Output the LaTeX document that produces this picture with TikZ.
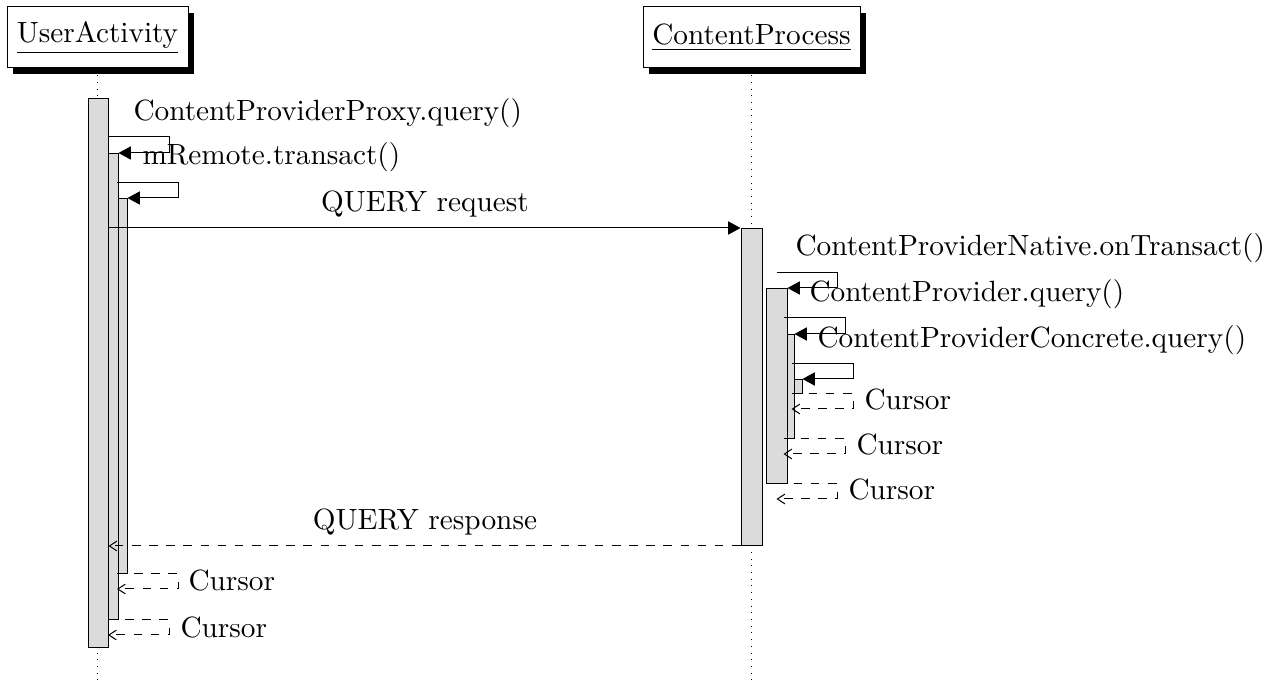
\documentclass[tikz,border=0pt]{standalone}
\usetikzlibrary{arrows.meta,shadows}
\begin{document}
\begin{tikzpicture}[x=0.35pt,y=-0.35pt, line width=0.35pt,
  every node/.style={font=\fontsize{10.25}{12}\selectfont},
  objbox/.style={draw, fill=white, inner sep=0pt, minimum height=21.35pt,
    drop shadow={shadow xshift=2.1pt, shadow yshift=-2.1pt, opacity=1, fill=black}},
  lifeline/.style={dotted},
  actbar/.style={draw, fill=gray!28, inner sep=0pt, anchor=north},
  msg/.style={-{Triangle[length=4.3pt,width=4.6pt]}},
  reply/.style={dashed, -{Straight Barb[length=2.6pt,width=3.4pt]}},
  lbl/.style={inner sep=0pt, anchor=base west},
  mlbl/.style={inner sep=0pt, anchor=base},
]
\useasboundingbox (0,0) rectangle (1284,682);

% objects
\node[objbox, minimum width=63.35pt] (ua) at (97.5,37.5) {\underline{UserActivity}};
\node[objbox, minimum width=75.95pt] (cp) at (751.5,37.5) {\underline{ContentProcess}};

% lifelines
\coordinate (uaend) at (97.5,682);
\coordinate (cpend) at (751.5,682);
\draw[lifeline] (ua.south) -- (uaend);
\draw[lifeline] (cp.south) -- (cpend);

% activation bars, innermost first
\node[actbar, minimum width=7pt, minimum height=131.25pt] (ua3) at (117,198) {};
\node[actbar, minimum width=7pt, minimum height=163.1pt] (ua2) at (108,153) {};
\node[actbar, minimum width=7pt, minimum height=192.15pt] (ua1) at (98,98) {};
\node[actbar, minimum width=7.35pt, minimum height=4.9pt] (cp4) at (791.5,379) {};
\node[actbar, minimum width=7.35pt, minimum height=36.4pt] (cp3) at (783.5,334) {};
\node[actbar, minimum width=7.35pt, minimum height=68.25pt] (cp2) at (776.5,288) {};
\node[actbar, minimum width=7.35pt, minimum height=110.95pt] (cp1) at (751.5,228) {};

% self calls in UserActivity
\draw[msg] (ua2.north) ++(0,-16) -- ++(61,0) |- (ua2.north east);
\node[lbl] (t1) at (133,121) {ContentProviderProxy.query()};
\draw[msg] (ua3.north) ++(0,-15) -- ++(61,0) |- (ua3.north east);
\node[lbl] (t2) at (142,165) {mRemote.transact()};

% request
\draw[msg] (ua1.east |- cp1.north west) -- (cp1.north west);
\node[mlbl] (t3) at (425,212) {QUERY request};

% self calls in ContentProcess
\draw[msg] (cp2.north) ++(0,-15) -- ++(60.5,0) |- (cp2.north east);
\node[lbl] (t4) at (795,256) {ContentProviderNative.onTransact()};
\draw[msg] (cp3.north) ++(0,-16) -- ++(61.5,0) |- (cp3.north east);
\node[lbl] (t5) at (809,302) {ContentProvider.query()};
\draw[msg] (cp4.north) ++(0,-15) -- ++(61.5,0) |- (cp4.north east);
\node[lbl] (t6) at (817,348) {ContentProviderConcrete.query()};

% returns in ContentProcess
\draw[reply] (cp4.south) -- ++(61.5,0) -- ++(0,15) -- ++(-61.5,0);
\node[lbl] (r1) at (864,410) {Cursor};
\draw[reply] (cp3.south) -- ++(61.5,0) -- ++(0,15) -- ++(-61.5,0);
\node[lbl] (r2) at (856,455) {Cursor};
\draw[reply] (cp2.south) -- ++(60.5,0) -- ++(0,15) -- ++(-60.5,0);
\node[lbl] (r3) at (848,500) {Cursor};

% response
\draw[reply] (cp1.south west) -- (ua1.east |- cp1.south west);
\node[mlbl] (t7) at (425,529) {QUERY response};

% returns in UserActivity
\draw[reply] (ua3.south) -- ++(61,0) -- ++(0,15) -- ++(-61,0);
\node[lbl] (r4) at (188,591) {Cursor};
\draw[reply] (ua2.south) -- ++(61,0) -- ++(0,15) -- ++(-61,0);
\node[lbl] (r5) at (180,637) {Cursor};
\end{tikzpicture}
\end{document}
